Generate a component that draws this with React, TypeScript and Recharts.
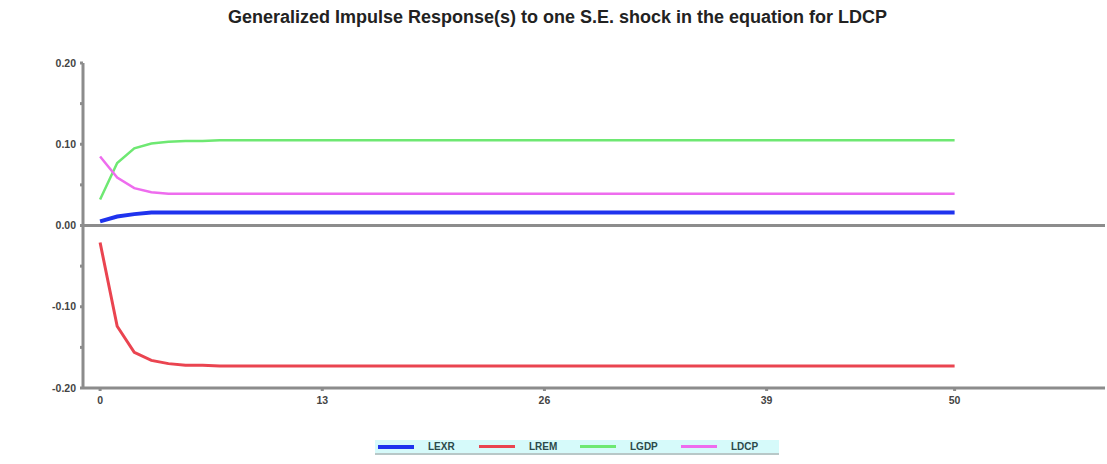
import { LineChart, Line, XAxis, YAxis, ReferenceLine, Legend } from "recharts";

const horizons = [
  0, 1, 2, 3, 4, 5, 6, 7, 8, 9, 10, 11, 12, 13, 14, 15, 16, 17, 18, 19, 20, 21, 22, 23, 24, 25,
  26, 27, 28, 29, 30, 31, 32, 33, 34, 35, 36, 37, 38, 39, 40, 41, 42, 43, 44, 45, 46, 47, 48, 49, 50,
];

const lexr = [
  0.005, 0.011, 0.014, 0.016, 0.016, 0.016, 0.016, 0.016, 0.016, 0.016, 0.016, 0.016, 0.016,
  0.016, 0.016, 0.016, 0.016, 0.016, 0.016, 0.016, 0.016, 0.016, 0.016, 0.016, 0.016, 0.016,
  0.016, 0.016, 0.016, 0.016, 0.016, 0.016, 0.016, 0.016, 0.016, 0.016, 0.016, 0.016, 0.016,
  0.016, 0.016, 0.016, 0.016, 0.016, 0.016, 0.016, 0.016, 0.016, 0.016, 0.016, 0.016,
];

const lrem = [
  -0.021, -0.124, -0.156, -0.166, -0.17, -0.172, -0.172, -0.173, -0.173, -0.173, -0.173, -0.173,
  -0.173, -0.173, -0.173, -0.173, -0.173, -0.173, -0.173, -0.173, -0.173, -0.173, -0.173, -0.173,
  -0.173, -0.173, -0.173, -0.173, -0.173, -0.173, -0.173, -0.173, -0.173, -0.173, -0.173, -0.173,
  -0.173, -0.173, -0.173, -0.173, -0.173, -0.173, -0.173, -0.173, -0.173, -0.173, -0.173, -0.173,
  -0.173, -0.173, -0.173,
];

const lgdp = [
  0.032, 0.077, 0.095, 0.101, 0.103, 0.104, 0.104, 0.105, 0.105, 0.105, 0.105, 0.105, 0.105,
  0.105, 0.105, 0.105, 0.105, 0.105, 0.105, 0.105, 0.105, 0.105, 0.105, 0.105, 0.105, 0.105,
  0.105, 0.105, 0.105, 0.105, 0.105, 0.105, 0.105, 0.105, 0.105, 0.105, 0.105, 0.105, 0.105,
  0.105, 0.105, 0.105, 0.105, 0.105, 0.105, 0.105, 0.105, 0.105, 0.105, 0.105, 0.105,
];

const ldcp = [
  0.085, 0.059, 0.046, 0.041, 0.039, 0.039, 0.039, 0.039, 0.039, 0.039, 0.039, 0.039, 0.039,
  0.039, 0.039, 0.039, 0.039, 0.039, 0.039, 0.039, 0.039, 0.039, 0.039, 0.039, 0.039, 0.039,
  0.039, 0.039, 0.039, 0.039, 0.039, 0.039, 0.039, 0.039, 0.039, 0.039, 0.039, 0.039, 0.039,
  0.039, 0.039, 0.039, 0.039, 0.039, 0.039, 0.039, 0.039, 0.039, 0.039, 0.039, 0.039,
];

const xTicks = [0, 13, 26, 39, 50];
const yTicks = [-0.2, -0.15, -0.1, -0.05, 0, 0.05, 0.1, 0.15, 0.2];
const yLabels = ["-0.20", "", "-0.10", "", "0.00", "", "0.10", "", "0.20"];

const series = [
  { key: "LEXR", color: "#1f33ee", width: 4 },
  { key: "LREM", color: "#ea4450", width: 3 },
  { key: "LGDP", color: "#6ee872", width: 2.5 },
  { key: "LDCP", color: "#ee6cee", width: 2.5 },
];

const data = horizons.map((h, i) => ({
  h,
  LEXR: lexr[i],
  LREM: lrem[i],
  LGDP: lgdp[i],
  LDCP: ldcp[i],
}));

const font = "'Liberation Sans', Arial, sans-serif";
const axisColor = "#8c8c8c";

function LegendBox() {
  return (
    <div
      style={{
        display: "flex",
        alignItems: "center",
        height: 13,
        background: "#d6fafa",
        borderBottom: "2px solid #b8c8c8",
        fontFamily: font,
        fontSize: 10,
        fontWeight: "bold",
        color: "#2b4a4a",
      }}
    >
      {series.map((s) => (
        <div key={s.key} style={{ display: "flex", alignItems: "center", width: 104 }}>
          <div style={{ width: 36, height: s.width, background: s.color, marginLeft: 3 }} />
          <span style={{ marginLeft: 14 }}>{s.key}</span>
        </div>
      ))}
    </div>
  );
}

export default function App() {
  return (
    <div style={{ position: "absolute", left: 0, top: 0, width: 1107, height: 464, background: "#fff" }}>
      <div
        style={{
          position: "absolute",
          top: 7,
          left: 0,
          width: 1115,
          textAlign: "center",
          fontFamily: font,
          fontWeight: "bold",
          fontSize: 18,
          color: "#222",
        }}
      >
        Generalized Impulse Response(s) to one S.E. shock in the equation for LDCP
      </div>
      <LineChart width={1107} height={464} data={data} margin={{ top: 63, right: 2, left: 0, bottom: 46 }}>
        <XAxis
          dataKey="h"
          type="number"
          domain={[-1, 58.8]}
          ticks={xTicks}
          allowDataOverflow
          height={30}
          stroke={axisColor}
          strokeWidth={3}
          tickSize={3}
          tickMargin={6}
          tick={{ fill: "#444", fontSize: 10.5, fontWeight: "bold", fontFamily: font }}
        />
        <YAxis
          type="number"
          domain={[-0.2, 0.2]}
          ticks={yTicks}
          interval={0}
          width={83}
          stroke={axisColor}
          strokeWidth={3}
          tickSize={3}
          tickMargin={4}
          tickFormatter={(v: number) => yLabels[yTicks.indexOf(v)] ?? ""}
          tick={{ fill: "#444", fontSize: 10.5, fontWeight: "bold", fontFamily: font }}
        />
        <ReferenceLine y={0} stroke={axisColor} strokeWidth={3} />
        {series.map((s) => (
          <Line
            key={s.key}
            dataKey={s.key}
            type="linear"
            stroke={s.color}
            strokeWidth={s.width}
            dot={false}
            isAnimationActive={false}
          />
        ))}
        <Legend
          layout="horizontal"
          verticalAlign="middle"
          align="center"
          content={() => <LegendBox />}
          wrapperStyle={{ top: 440, left: 375, width: 404 }}
        />
      </LineChart>
    </div>
  );
}
